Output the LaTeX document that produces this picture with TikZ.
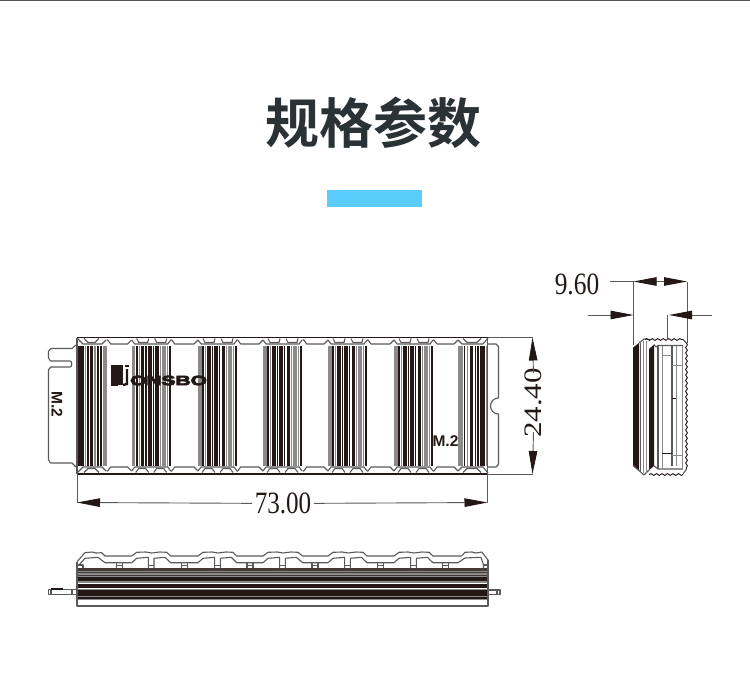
\documentclass[tikz,border=0pt]{standalone}
\usepackage{fontspec}
\setmainfont{Liberation Serif}
\setsansfont{Liberation Sans}
\newfontfamily\cjkfont{Noto Sans CJK SC}[BoldFont={Noto Sans CJK SC Bold}]
\newfontfamily\logofont{Liberation Sans Bold}[FakeBold=5]
\usetikzlibrary{arrows.meta,decorations.pathmorphing}
\definecolor{ink}{HTML}{231815}
\definecolor{midgray}{HTML}{8A8A8A}
\definecolor{linegray}{HTML}{5A5A5A}
\definecolor{titleink}{HTML}{2B3236}
\definecolor{accentblue}{HTML}{5BCDFD}
\tikzset{
  dimline/.style={draw=linegray,line width=.9pt},
  dimarrow/.style={dimline,-{Triangle[length=23pt,width=8.5pt,fill=ink,color=ink]}},
  dimtext/.style={font=\fontsize{31}{31}\selectfont,text=ink,inner sep=3pt},
  outline/.style={draw=linegray,line width=1.1pt,line join=round},
  heavy/.style={draw=ink,line width=1.3pt,line join=round},
  label2/.style={font=\sffamily\bfseries\fontsize{15.5}{15.5}\selectfont,text=ink,inner sep=0pt},
  wavy/.style={draw=ink,line width=.9pt,decorate,decoration={snake,segment length=5.5pt,amplitude=.9pt}},
}
\newcommand{\vbar}[3]{\fill[#3] (#1,346) rectangle ++(#2,119.5);}
\begin{document}
\begin{tikzpicture}[x=1pt,y=-1pt]
\useasboundingbox (0,0) rectangle (750,682);
\fill[white] (0,0) rectangle (750,682);
\fill[linegray!90!black] (0,0) rectangle (750,1);
\node[font=\cjkfont\bfseries\fontsize{54}{54}\selectfont,text=titleink,inner sep=0pt] (title) at (373,123) {规格参数};
\fill[accentblue] (327,190) rectangle (422,207);

% ---------- top view: stripes ----------
\vbar{77}{7}{ink}\vbar{85}{1.3}{midgray}\vbar{87.3}{1.5}{ink}\vbar{90}{3}{ink}\vbar{94.2}{1.5}{midgray}\vbar{97}{1.6}{ink}\vbar{100.3}{1.5}{ink}\vbar{103}{3.6}{midgray}
\foreach \xo in {131.7,198,263,328,394}{
  \vbar{\xo}{3.6}{midgray}
  \vbar{\xo+4.4}{1.5}{ink}
  \vbar{\xo+6.8}{1.3}{midgray}
  \vbar{\xo+9}{3.6}{ink}
  \vbar{\xo+13.6}{1.4}{ink}
  \vbar{\xo+16}{4}{ink}
  \vbar{\xo+21}{1.4}{ink}
  \vbar{\xo+23.5}{3.5}{ink}
  \vbar{\xo+28}{1.2}{midgray}
  \vbar{\xo+30}{4}{midgray}
  \vbar{\xo+35.3}{1.1}{midgray}
  \vbar{\xo+37.4}{1.5}{ink}
}
\vbar{458}{4.6}{midgray}\vbar{464}{1.3}{ink}\vbar{467}{1.3}{midgray}\vbar{470}{3.2}{ink}\vbar{475}{1.1}{ink}\vbar{477.3}{1.2}{ink}\vbar{480}{5}{ink}\vbar{485.6}{1}{midgray}

% ---------- top view: frame ----------
\draw[heavy] (77,337.5) -- (488,337.5);
\draw[heavy] (77,474) -- (488,474);
\draw[outline] (77,337.5) -- (77,474);
\draw[outline] (487.5,337.5) -- (487.5,474);
\draw[outline] (77,338) -- (83,344) -- (102,344) -- (106,340);
\draw[outline] (77,473) -- (83,467) -- (102,467) -- (106,471);
\draw[outline] (458,340) -- (462,344) -- (483,344) -- (488,338);
\draw[outline] (458,471) -- (462,467) -- (483,467) -- (488,473);
\foreach \a/\b in {106.7/131.7,170.7/198,236.7/263,302.7/328,367/394,433/458}{
  \draw[outline] (\a,340) -- (\a+1,340) -- (\a+4,344) -- (\b-4,344) -- (\b,340);
  \draw[outline] (\a,471) -- (\a+1,471) -- (\a+4,467) -- (\b-4,467) -- (\b,471);
}
\foreach \xo in {131.7,198,263,328,394}{
  \draw[outline] (\xo,340) -- (\xo+3,344) -- (\xo+36,344) -- (\xo+39,340);
  \draw[outline] (\xo,471) -- (\xo+3,467) -- (\xo+36,467) -- (\xo+39,471);
  \foreach \u in {4,22}{
    \draw[outline] (\xo+\u+1,338.5) -- (\xo+\u+3,342.5) -- (\xo+\u+12,342.5) -- (\xo+\u+13,338.5);
    \draw[outline] (\xo+\u,472.5) -- (\xo+\u+3,468.5) -- (\xo+\u+10,468.5) -- (\xo+\u+13,472.5);
  }
}
\draw[outline] (84,338.5) -- (88,342.5) -- (95,342.5) -- (99,338.5);
\draw[outline] (84,472.5) -- (88,468.5) -- (95,468.5) -- (99,472.5);
\draw[outline] (463,338.5) -- (467,342.5) -- (477,342.5) -- (481,338.5);
\draw[outline] (463,472.5) -- (467,468.5) -- (477,468.5) -- (481,472.5);

% connector edges
\draw[outline] (76,345) -- (72,348.5) -- (51,348.5) to[out=180,in=-90] (48.5,351) -- (48.5,358)
  to[out=90,in=180] (51,361) -- (70,361) to[out=0,in=0] (70,367) -- (51,367) to[out=180,in=-90] (48.5,369.5)
  -- (48.5,460) to[out=90,in=180] (51,463) -- (72,463) -- (76,467);
\draw[outline] (488,344) -- (496,344) to[out=0,in=-90] (498.5,346.5) -- (498.5,398)
  arc[start angle=-90,end angle=-270,radius=8] -- (498.5,414) -- (498.5,464.5) to[out=90,in=0] (496,467) -- (488,467);
\node[label2,rotate=-90] (mtwoa) at (57,404.5) {M.2};
\node[label2] (mtwob) at (445.5,441) {M.2};

% logo
\fill[ink] (110.5,365) rectangle (122.5,386);
\fill[ink] (125,365) rectangle (129,367);
\draw[ink,line width=2.4pt] (127,369) -- (127,384) -- (123,385);
\draw[white,line width=.8pt] (118,385) -- (122.5,385);
\node[font=\logofont\fontsize{13.5}{13.5}\selectfont,text=ink,inner sep=0pt] (logo) at (168.5,380.5) {\scalebox{1.55}[1]{ONSBO}};

% ---------- dimension 73.00 ----------
\node[dimtext,xscale=.81] (tw) at (283,503.5) {73.00};
\coordinate (wl) at (77,502.5);
\coordinate (wr) at (487.5,502.5);
\coordinate (wlb) at (77,474);
\coordinate (wrb) at (487.5,474);
\draw[dimarrow] (tw) -- (wl);
\draw[dimarrow] (tw) -- (wr);
\draw[dimline] (wlb) -- (wl);
\draw[dimline] (wrb) -- (wr);

% ---------- dimension 24.40 ----------
\node[dimtext,xscale=.81,rotate=90] (th) at (533.5,403) {24.40};
\coordinate (ht) at (532.5,337.5);
\coordinate (hb) at (532.5,474);
\coordinate (hte) at (488,337.5);
\coordinate (hbe) at (488,474);
\draw[dimarrow] (th.east |- 0,373) -- (ht);
\draw[dimarrow] (th.east |- 0,432) -- (hb);
\draw[dimline] (hte) -- (ht);
\draw[dimline] (hbe) -- (hb);

% ---------- side view ----------
\fill[ink] (633,347.5) -- (639,343) -- (639,471) -- (633,465.5) -- cycle;
\fill[ink] (649,349) -- (654,344.5) -- (654,466) -- (649,470) -- cycle;
\draw[outline] (639,343) -- (644,339) -- (650,339.5);
\draw[outline] (633,465.5) -- (644,475) -- (649,470);
\draw[outline] (640.5,343) -- (640.5,471);
\draw[draw=midgray,line width=1pt] (643.5,341) -- (643.5,473);
\draw[draw=midgray,line width=.8pt] (646.5,341) -- (646.5,473);
\draw[outline] (654,344.5) -- (656,347) -- (658,345.5) -- (683,345.5);
\draw[outline] (654,466) -- (658,469) -- (683,469);
\draw[outline] (658,345.5) -- (658,469);
\draw[draw=midgray,line width=1pt] (662,346) -- (662,468);
\draw[outline] (672,346) -- (672,466);
\draw[draw=midgray,line width=1pt] (682,346) -- (682,468);
\draw[ink,line width=.8pt] (672,398) -- (676,398);
\draw[draw=midgray,line width=.8pt] (676,346) -- (676,466);
\draw[draw=midgray,line width=.8pt] (662,355) -- (672,355) (672,455) -- (682,455) (672,365) -- (682,365);
\draw[ink,line width=.8pt] (662,453) -- (672,453);
\draw[wavy] (645,339.5) -- (683,339.5);
\draw[outline] (683,339.5) -- (686.5,343);
\draw[wavy] (686.5,343) -- (686.5,469);
\draw[outline] (686.5,469) -- (683,474);
\draw[wavy] (683,474.5) -- (649,474.5);

% ---------- dimension 9.60 ----------
\node[dimtext,xscale=.82,anchor=center] (td) at (577,284.5) {9.60};
\coordinate (dl) at (633.5,281.5);
\coordinate (dr) at (687,281.5);
\coordinate (dm) at (660.5,281.5);
\coordinate (dle) at (610,281.5);
\coordinate (dlb) at (633.5,345);
\coordinate (drb) at (687,343);
\draw[dimline] (dle) -- (dl);
\draw[dimline] (dlb) -- (dl);
\draw[dimline] (drb) -- (dr);
\draw[dimarrow] (dm) -- (dl);
\draw[dimarrow] (dm) -- (dr);
\coordinate (el) at (588,315);
\coordinate (er) at (712,315);
\coordinate (ea) at (633.5,315);
\coordinate (eb) at (669,315);
\coordinate (ec) at (667,340);
\coordinate (ed) at (667,315);
\draw[dimarrow] (el) -- (ea);
\draw[dimarrow] (er) -- (eb);
\draw[dimline] (ed) -- (ec);

% ---------- front view ----------
\fill[ink!85] (77,568) rectangle (488,570.5);
\fill[midgray] (77,570.5) rectangle (488,577.5);
\fill[ink!85] (77,572) rectangle (488,573.2);
\fill[ink!85] (77,574.6) rectangle (488,575.8);
\fill[ink] (77,577) rectangle (488,581);
\fill[midgray] (77,581) rectangle (488,583);
\fill[ink] (77,583.7) rectangle (488,588);
\fill[midgray] (77,589) rectangle (488,590);
\fill[ink] (77,590) rectangle (488,596);
\fill[midgray] (77,596) rectangle (488,597);
\fill[ink] (77,597) rectangle (488,599);
\fill[midgray] (77,599) rectangle (488,600);
\draw[outline] (77,568) -- (77,606) -- (488,606) -- (488,568);
\draw[outline] (77,562) -- (77,568) (488,560) -- (488,568);
\draw[outline] (77,561.7) -- (85,552.7) -- (92,552) -- (96,553) -- (101.7,552.7) -- (105,556) -- (131.7,556);
\foreach \xo/\nx/\ny in {131.7/170.7/198,198/236.7/263,263/302.7/328,328/367/394,394/433/461.7}{
  \draw[outline] (\xo,556) -- (\xo+5,552.3) -- (\xo+14,552) -- (\xo+20,553) -- (\xo+28,552) -- (\xo+35,552.3) -- (\nx,556) -- (\ny,556);
}
\draw[outline] (461.7,556) -- (465,552.3) -- (472,552) -- (476,553) -- (481.7,552) -- (488,560);
\draw[outline] (79,565) -- (85,558.3) -- (98,557.3) -- (105,562.7) -- (131.7,562.7);
\foreach \xo/\nx/\ny in {131.7/170.7/198,198/236.7/263,263/302.7/328,328/367/394,394/433/458}{
  \draw[outline] (\xo,562.7) -- (\xo+5,558.3) -- (\xo+16.6,557.3) -- (\xo+16.6,568);
  \draw[outline] (\xo+22.3,568) -- (\xo+22.3,558.3) -- (\xo+33.3,557.3) -- (\nx,562.7) -- (\ny,562.7);
  \fill[linegray] (\xo+16.6,565) rectangle (\xo+22.3,566);
}
\draw[outline] (458,562.7) -- (465,558) -- (481,557.3) -- (483.5,565) -- (483.5,568);
\foreach \px in {119.5,184.5,250,315,380.5,445.7}{
  \draw[outline] (\px-3,562.7) -- (\px-3,568) (\px+3,562.7) -- (\px+3,568);
  \fill[linegray] (\px-3,565) rectangle (\px+3,566);
}
\draw[outline] (77,565) -- (83,565) -- (83,568);
\draw[outline] (483.5,565) -- (488,565);
% tabs
\draw[outline] (77,589.5) -- (59,589.5) -- (48.5,589.5) -- (48.5,594.5) -- (77,594.5);
\draw[outline] (51,589.5) -- (51,594.5);
\draw[ink,line width=1.1pt] (51,589) -- (63,589);
\draw[outline] (72,589.5) -- (72,594.5);
\draw[outline] (488,590) -- (500,590) -- (500,594.5) -- (488,594.5);
\draw[outline] (497,590) -- (497,594.5);
\end{tikzpicture}
\end{document}
